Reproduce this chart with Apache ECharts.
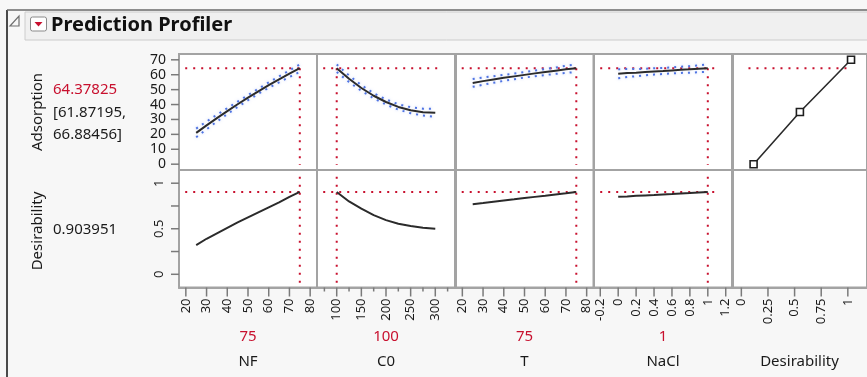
<!DOCTYPE html>
<html>
<head>
<meta charset="utf-8">
<script src="https://cdn.jsdelivr.net/npm/echarts@6/dist/echarts.min.js"></script>
<style>
  html, body { margin: 0; padding: 0; background: #f7f7f7; }
  #chart { width: 867px; height: 377px; }
</style>
</head>
<body>
<div id="chart"></div>
<script>
// ---- Profiler values ----
const factorNames = ['NF', 'C0', 'T', 'NaCl'];
const currentSettings = [75, 100, 75, 1];
const predictedAdsorption = 64.37825;
const adsorptionCI = [61.87195, 66.88456];
const overallDesirability = 0.903951;

// NF profile
const nfX    = [25, 30, 35, 40, 45, 50, 55, 60, 65, 70, 75];
const nfAds  = [21.0, 26.0, 30.9, 35.6, 40.2, 44.6, 48.9, 53.0, 56.9, 60.7, 64.38];
const nfLow  = [18.1, 23.4, 28.6, 33.6, 38.4, 42.9, 47.2, 51.2, 54.9, 58.5, 61.87];
const nfHigh = [23.9, 28.6, 33.2, 37.6, 42.0, 46.3, 50.6, 54.8, 58.9, 62.9, 66.88];
const nfDes  = [0.32, 0.39, 0.45, 0.51, 0.57, 0.625, 0.68, 0.735, 0.79, 0.85, 0.904];

// C0 profile
const c0X    = [100, 125, 150, 175, 200, 225, 250, 275, 300];
const c0Ads  = [64.38, 57.3, 51.1, 45.9, 41.7, 38.4, 36.2, 34.9, 34.5];
const c0Low  = [61.87, 55.1, 49.2, 44.2, 40.0, 36.6, 34.2, 32.6, 31.8];
const c0High = [66.88, 59.5, 53.0, 47.6, 43.4, 40.2, 38.2, 37.2, 37.2];
const c0Des  = [0.904, 0.80, 0.72, 0.65, 0.595, 0.555, 0.53, 0.51, 0.50];

// T profile
const tX    = [25, 30, 35, 40, 45, 50, 55, 60, 65, 70, 75];
const tAds  = [54.5, 55.7, 56.8, 57.9, 58.9, 59.9, 60.9, 61.8, 62.7, 63.6, 64.38];
const tLow  = [51.9, 53.3, 54.6, 55.9, 57.0, 58.1, 59.0, 59.8, 60.6, 61.2, 61.87];
const tHigh = [57.1, 58.1, 59.0, 59.9, 60.8, 61.7, 62.8, 63.8, 64.8, 66.0, 66.88];
const tDes  = [0.77, 0.783, 0.797, 0.81, 0.823, 0.837, 0.85, 0.863, 0.877, 0.89, 0.904];

// NaCl profile
const naclX    = [0, 0.1, 0.2, 0.3, 0.4, 0.5, 0.6, 0.7, 0.8, 0.9, 1];
const naclAds  = [60.7, 61.1, 61.4, 61.8, 62.2, 62.5, 62.9, 63.3, 63.6, 64.0, 64.38];
const naclLow  = [57.7, 58.4, 59.0, 59.6, 60.1, 60.5, 60.9, 61.2, 61.4, 61.7, 61.87];
const naclHigh = [63.7, 63.8, 63.8, 64.0, 64.3, 64.5, 64.9, 65.4, 65.8, 66.3, 66.88];
const naclDes  = [0.85, 0.855, 0.861, 0.866, 0.871, 0.877, 0.882, 0.888, 0.893, 0.899, 0.904];

// Desirability function for Adsorption (desirability on x, response on y)
const desFnD   = [0.115, 0.55, 1.03];
const desFnAds = [0, 35, 70];

// Tick values
const adsTicks      = [0, 10, 20, 30, 40, 50, 60, 70];
const desTicks      = [0, 0.25, 0.5, 0.75, 1];
const desTickLabels = [0, 0.5, 1];
const nfTicks       = [20, 30, 40, 50, 60, 70, 80];
const c0Ticks       = [100, 150, 200, 250, 300];
const c0MinorTicks  = [75, 125, 175, 225, 275, 325];
const tTicks        = [20, 30, 40, 50, 60, 70, 80];
const naclTicks     = [-0.2, 0, 0.2, 0.4, 0.6, 0.8, 1, 1.2];
const dTicks        = [0, 0.25, 0.5, 0.75, 1];

// ---- Layout ----
const colLeft = [179, 317, 455.5, 594, 732.5];
const colWidth = 138;
const rowTop = [54, 170];
const rowHeight = [116, 117.5];
const xRanges = [[16.7, 83.3], [60, 340], [16.7, 83.3], [-0.27, 1.27], [-0.083, 1.18]];
const yRanges = [[-3.9, 73.9], [-0.145, 1.145]];

const RED = '#c8102e';
const BORDER = '#a3a3a3';
const TICK_COLOR = '#7a7a7a';
const LABEL_FONT = '"Noto Sans", "Open Sans", sans-serif';
const profiles = [
  { x: nfX,   ads: nfAds,   lo: nfLow,   hi: nfHigh,   des: nfDes },
  { x: c0X,   ads: c0Ads,   lo: c0Low,   hi: c0High,   des: c0Des },
  { x: tX,    ads: tAds,    lo: tLow,    hi: tHigh,    des: tDes },
  { x: naclX, ads: naclAds, lo: naclLow, hi: naclHigh, des: naclDes }
];
const xTickSets = [nfTicks, c0Ticks, tTicks, naclTicks, dTicks];

const zip = (xs, ys) => xs.map((v, i) => [v, ys[i]]);

const grids = [], xAxes = [], yAxes = [], series = [];

function baseAxis(idx, range) {
  return {
    type: 'value', gridIndex: idx, min: range[0], max: range[1],
    splitLine: { show: false },
    axisLine: { show: true, onZero: false, lineStyle: { color: BORDER, width: 2 } },
    axisTick: { show: false },
    axisLabel: { show: false }
  };
}

for (let r = 0; r < 2; r++) {
  for (let c = 0; c < 5; c++) {
    const idx = r * 5 + c;
    grids.push({
      left: colLeft[c], top: rowTop[r], width: colWidth, height: rowHeight[r],
      show: true, backgroundColor: '#ffffff', borderColor: BORDER, borderWidth: 2
    });
    const xAxis = baseAxis(idx, xRanges[c]);
    if (r === 1) {
      xAxis.axisLabel = {
        show: true, rotate: 90, margin: 11, customValues: xTickSets[c],
        color: '#1a1a1a', fontSize: 13, fontFamily: LABEL_FONT,
        formatter: v => String(+v.toFixed(2))
      };
    }
    xAxes.push(xAxis);

    const yAxis = baseAxis(idx, yRanges[r]);
    if (c === 0) {
      yAxis.axisLabel = {
        show: true, margin: 13, customValues: r === 0 ? adsTicks : desTickLabels,
        color: '#1a1a1a', fontSize: r === 0 ? 14 : 13, fontFamily: LABEL_FONT,
        rotate: r === 0 ? 0 : 90
      };
    }
    yAxes.push(yAxis);
  }
}

// Tick marks drawn through each panel's own scale, pointing out of the panel
function tickSeries(idx, values, side, len) {
  const xMin = xRanges[idx % 5][0];
  const yMin = yRanges[Math.floor(idx / 5)][0];
  const data = side === 'bottom' ? values.map(v => [v, yMin]) : values.map(v => [xMin, v]);
  return {
    type: 'custom', xAxisIndex: idx, yAxisIndex: idx, data: data,
    clip: false, silent: true, animation: false, z: 6,
    renderItem: (params, api) => {
      const p = api.coord([api.value(0), api.value(1)]);
      const end = side === 'bottom' ? [p[0], p[1] + len] : [p[0] - len, p[1]];
      return {
        type: 'line',
        shape: { x1: p[0], y1: p[1], x2: end[0], y2: end[1] },
        style: { stroke: TICK_COLOR, lineWidth: 1.5 }
      };
    }
  };
}

series.push(tickSeries(0, adsTicks, 'left', 8));
series.push(tickSeries(5, desTicks, 'left', 8));
for (let c = 0; c < 5; c++) {
  series.push(tickSeries(5 + c, xTickSets[c], 'bottom', 9));
}
series.push(tickSeries(6, c0MinorTicks, 'bottom', 4));

const dottedRed = { color: RED, width: 2, type: [2, 6] };
const dottedBlue = { color: '#4f74e3', width: 2, type: [2, 5], shadowColor: 'rgba(120,150,240,0.55)', shadowBlur: 3 };

function lineSeries(idx, data, style, extra) {
  return Object.assign({
    type: 'line', xAxisIndex: idx, yAxisIndex: idx, data: data,
    showSymbol: false, symbol: 'none', smooth: false, silent: true,
    lineStyle: style, animation: false, z: 3
  }, extra || {});
}

// horizontal reference segment spans the panel, inset a little on each side
function hSpan(c) {
  const [a, b] = xRanges[c];
  return [a + (b - a) * 0.045, b - (b - a) * 0.1];
}

for (let c = 0; c < 4; c++) {
  const p = profiles[c];
  const top = c, bot = 5 + c;
  const xs = currentSettings[c];
  const [h0, h1] = hSpan(c);
  // response row
  series.push(lineSeries(top, [[h0, predictedAdsorption], [h1, predictedAdsorption]], dottedRed, { z: 2 }));
  series.push(lineSeries(top, [[xs, predictedAdsorption], [xs, -0.6]], dottedRed, { z: 2 }));
  series.push(lineSeries(top, zip(p.x, p.lo), dottedBlue));
  series.push(lineSeries(top, zip(p.x, p.hi), dottedBlue));
  series.push(lineSeries(top, zip(p.x, p.ads), { color: '#2b2b2b', width: 2 }, { z: 4 }));
  // desirability row
  series.push(lineSeries(bot, [[h0, overallDesirability], [h1, overallDesirability]], dottedRed, { z: 2 }));
  series.push(lineSeries(bot, [[xs, 1.07], [xs, -0.1]], dottedRed, { z: 2 }));
  series.push(lineSeries(bot, zip(p.x, p.des), { color: '#2b2b2b', width: 2 }, { z: 4 }));
}

// desirability function panel
series.push(lineSeries(4, [[0.067, predictedAdsorption], [1.0, predictedAdsorption]], dottedRed, { z: 2 }));
series.push({
  type: 'line', xAxisIndex: 4, yAxisIndex: 4, data: zip(desFnD, desFnAds),
  symbol: 'rect', symbolSize: 7, showSymbol: true, silent: true, animation: false, z: 4,
  lineStyle: { color: '#2b2b2b', width: 1.6 },
  itemStyle: { color: '#ffffff', borderColor: '#1e1e1e', borderWidth: 1.6 }
});

// ---- Text and frame ----
const panelCenters = colLeft.map(l => l + colWidth / 2);
const textFont = '15px ' + LABEL_FONT;
const graphics = [
  // outer frame
  { type: 'line', shape: { x1: 7, y1: 10, x2: 7, y2: 377 }, style: { stroke: '#4a4a4a', lineWidth: 2 } },
  { type: 'line', shape: { x1: 7, y1: 10, x2: 867, y2: 10 }, style: { stroke: '#6a6a6a', lineWidth: 1.5 } },
  // header strip
  { type: 'rect', shape: { x: 25, y: 12, width: 850, height: 28 }, style: { fill: '#f0f0f0', stroke: '#cccccc', lineWidth: 1 } },
  // disclosure triangle
  { type: 'polygon', shape: { points: [[19, 16], [19, 26], [10, 26]] }, style: { fill: 'none', stroke: '#707070', lineWidth: 1.2 } },
  // menu button
  { type: 'rect', shape: { x: 30.5, y: 17, width: 16, height: 14, r: 2 }, style: { fill: '#ffffff', stroke: '#8a8a8a', lineWidth: 1 } },
  { type: 'polygon', shape: { points: [[34.5, 22], [42.5, 22], [38.5, 26.5]] }, style: { fill: RED } },
  { type: 'text', x: 51, y: 25, style: { text: 'Prediction Profiler', font: 'bold 20px "Noto Sans", "Open Sans", sans-serif', fill: '#111111', verticalAlign: 'middle' } },
  // response labels
  { type: 'text', x: 38, y: 112, rotation: Math.PI / 2, style: { text: 'Adsorption', font: textFont, fill: '#1a1a1a', align: 'center', verticalAlign: 'middle' } },
  { type: 'text', x: 53, y: 90, style: { text: predictedAdsorption.toFixed(5), font: textFont, fill: RED, verticalAlign: 'middle' } },
  { type: 'text', x: 53, y: 112.5, style: { text: '[' + adsorptionCI[0].toFixed(5) + ',', font: textFont, fill: '#1a1a1a', verticalAlign: 'middle' } },
  { type: 'text', x: 53, y: 135, style: { text: adsorptionCI[1].toFixed(5) + ']', font: textFont, fill: '#1a1a1a', verticalAlign: 'middle' } },
  { type: 'text', x: 38, y: 231, rotation: Math.PI / 2, style: { text: 'Desirability', font: textFont, fill: '#1a1a1a', align: 'center', verticalAlign: 'middle' } },
  { type: 'text', x: 53, y: 230, style: { text: String(overallDesirability), font: textFont, fill: '#1a1a1a', verticalAlign: 'middle' } }
];
factorNames.forEach((name, i) => {
  graphics.push({ type: 'text', x: panelCenters[i], y: 337, style: { text: String(currentSettings[i]), font: textFont, fill: RED, align: 'center', verticalAlign: 'middle' } });
  graphics.push({ type: 'text', x: panelCenters[i], y: 362, style: { text: name, font: textFont, fill: '#1a1a1a', align: 'center', verticalAlign: 'middle' } });
});
graphics.push({ type: 'text', x: panelCenters[4] - 2, y: 362, style: { text: 'Desirability', font: textFont, fill: '#1a1a1a', align: 'center', verticalAlign: 'middle' } });

const chart = echarts.init(document.getElementById('chart'), null, { renderer: 'canvas' });
chart.setOption({
  animation: false,
  backgroundColor: '#f7f7f7',
  grid: grids,
  xAxis: xAxes,
  yAxis: yAxes,
  series: series,
  graphic: graphics
});
</script>
</body>
</html>
